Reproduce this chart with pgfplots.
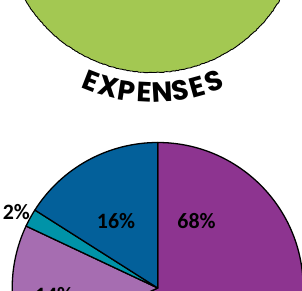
\documentclass[border=0pt]{standalone}
\usepackage{pgfplots}
\pgfplotsset{compat=1.18}
\usepackage{pgfplotstable}
\usepackage{fontspec}
\setmainfont{Carlito}
\newfontfamily\xkfont{Poppins}
\usetikzlibrary{decorations.pathmorphing,calc}
\definecolor{cPurple}{HTML}{8D3490}
\definecolor{cLight}{HTML}{A66DB1}
\definecolor{cTeal}{HTML}{0093A8}
\definecolor{cBlue}{HTML}{03609A}
\definecolor{cGreen}{HTML}{A3C852}
% pie values (percent), clockwise from 12 o'clock
\pgfplotstableread{
label value
68 68
14 14
2 2
16 16
}\piedata
% \slice{cumulative before}{value}{colour}
\newcommand{\slice}[3]{%
  \filldraw[fill=#3, draw=black, line width=1.3pt, line join=round]
    (axis cs:157.7,3) -- ++({90-3.6*(#1)}:145.5bp)
    arc[start angle={90-3.6*(#1)}, end angle={90-3.6*((#1)+(#2))}, radius=145.5bp] -- cycle;}
% title letter on arc
\newcommand{\lt}[2]{%
  \node[anchor=base, inner sep=0pt, rotate={#1-270},
        font=\xkfont\bfseries\fontsize{28}{28}\selectfont]
    at ($(axis cs:152.5,366.5)+(#1:178bp)$) {#2};}
\begin{document}
\begin{tikzpicture}
\begin{axis}[
  scale only axis, width=302bp, height=291bp,
  xmin=0, xmax=302, ymin=0, ymax=291,
  hide axis, clip=true]
% income circle (all green)
\fill[cGreen] (axis cs:152.5,366.5) circle[radius=148bp];
\draw[black, line width=0.9pt, decorate,
  decoration={random steps, segment length=1.6pt, amplitude=0.35pt}]
  (axis cs:152.5,366.5) circle[radius=148bp];
% title along arc
\lt{248.7}{E}
\lt{254.9}{X}
\lt{261.1}{P}
\lt{267.2}{E}
\lt{273.4}{N}
\lt{279.6}{S}
\lt{285.5}{E}
\lt{291.3}{S}
% pie slices from data
\slice{0}{68}{cPurple}
\slice{68}{14}{cLight}
\slice{82}{2}{cTeal}
\slice{84}{16}{cBlue}
\node[anchor=base, font=\bfseries\fontsize{22}{22}\selectfont] at (axis cs:196.5,62.7) {68\%};
\node[anchor=base, font=\bfseries\fontsize{22}{22}\selectfont] at (axis cs:116,62.7) {16\%};
\node[anchor=base, font=\bfseries\fontsize{22}{22}\selectfont] at (axis cs:16.3,71) {2\%};
\node[anchor=base, font=\bfseries\fontsize{22}{22}\selectfont] at (axis cs:54,-11) {14\%};
\end{axis}
\pgfresetboundingbox
\path (0,0) rectangle (302bp,291bp);
\end{tikzpicture}
\end{document}
